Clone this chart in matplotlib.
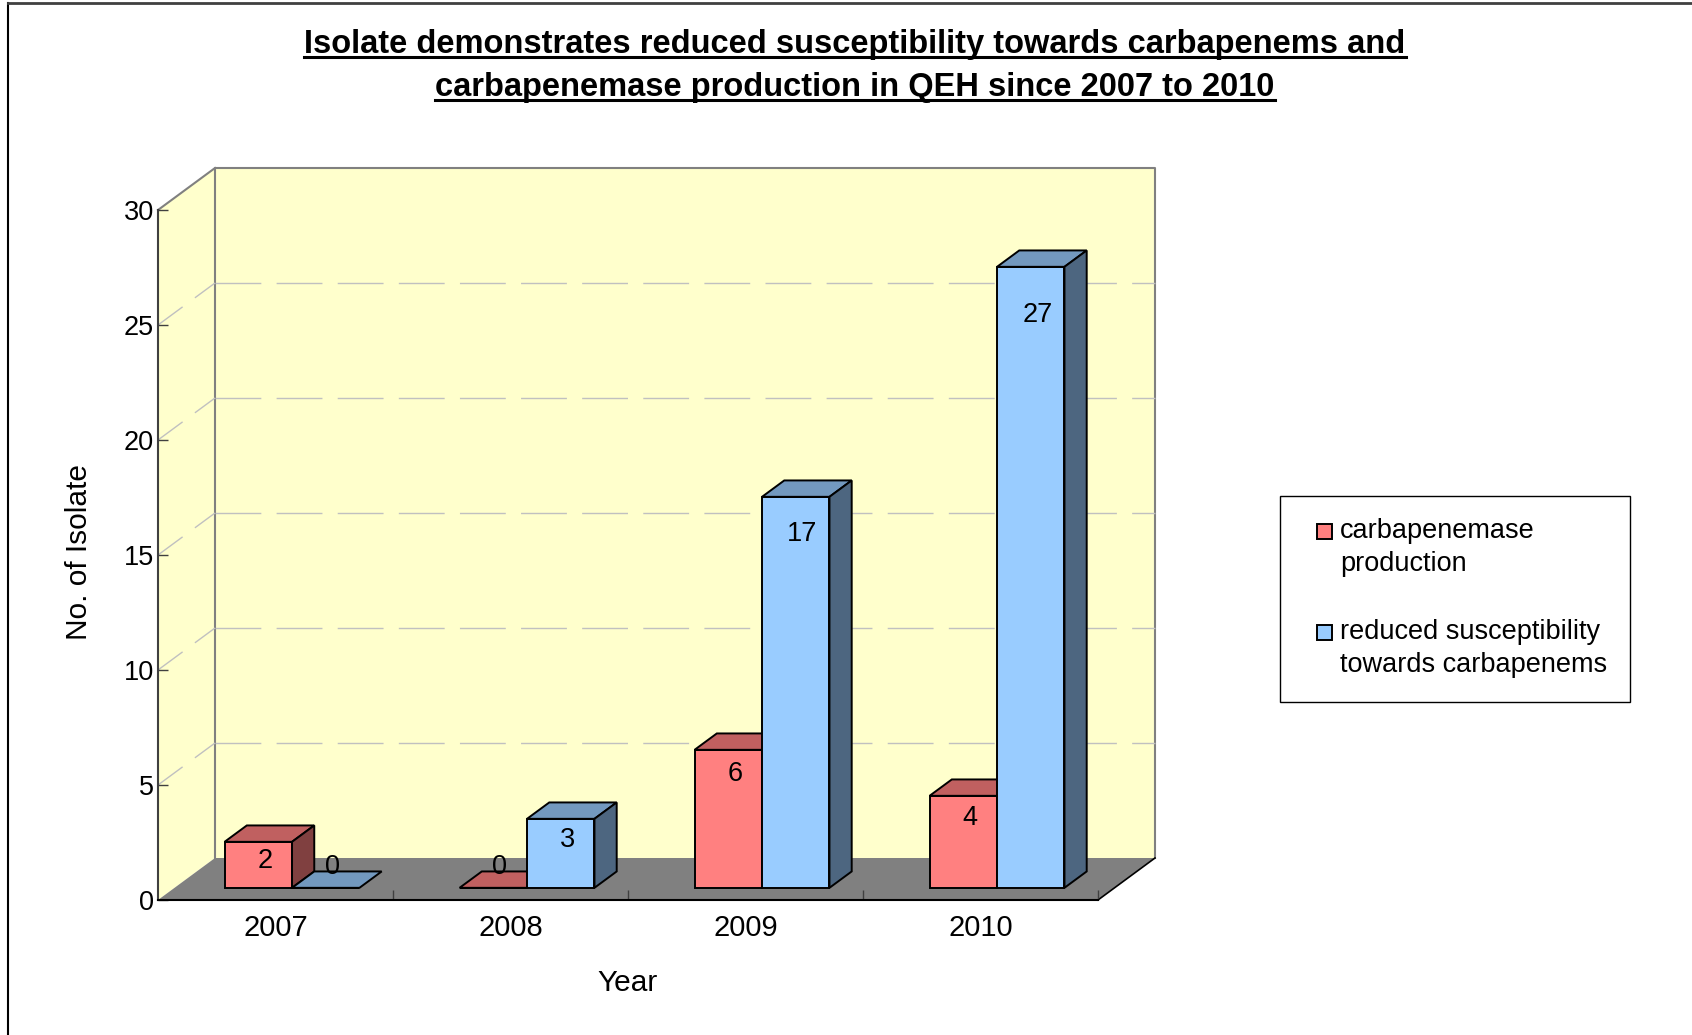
import matplotlib
matplotlib.use("Agg")
import matplotlib.pyplot as plt
from matplotlib.patches import Polygon, Rectangle
from matplotlib.lines import Line2D

# ── data ────────────────────────────────────────────────────────────────
years = ['2007', '2008', '2009', '2010']
carbapenemase = [2, 0, 6, 4]
reduced_susc = [0, 3, 17, 27]
series_names = ['carbapenemase\nproduction',
                'reduced susceptibility\ntowards carbapenems']
y_ticks = [0, 5, 10, 15, 20, 25, 30]
title_lines = ['Isolate demonstrates reduced susceptibility towards carbapenems and',
               'carbapenemase production in QEH since 2007 to 2010']

plt.rcParams['font.family'] = ['Liberation Sans', 'DejaVu Sans']

W, H = 1692, 1035
fig = plt.figure(figsize=(W / 100, H / 100), dpi=100)
ax = fig.add_axes([158 / W, 135 / H, 940 / W, 690 / H])
ax.set_xlim(-0.5, 3.5)
ax.set_ylim(0, 30)
ax.patch.set_visible(False)

# oblique depth of the 3D box (data units) and bar placement in depth
DX, DY = 57 / 235, 42 / 23
FRONT, BACK = 0.29, 0.68
BW = 0.287
x0, x1, ytop = -0.5, 3.5, 30

# walls and floor
ax.add_patch(Polygon([(x0 + DX, DY), (x1 + DX, DY), (x1 + DX, ytop + DY), (x0 + DX, ytop + DY)],
                     closed=True, fc='#FFFFCC', ec='none', zorder=0, clip_on=False))
ax.add_patch(Polygon([(x0, 0), (x0 + DX, DY), (x0 + DX, ytop + DY), (x0, ytop)],
                     closed=True, fc='#FFFFCC', ec='none', zorder=0, clip_on=False))
ax.plot([x0 + DX, x0 + DX, x1 + DX, x1 + DX], [DY, ytop + DY, ytop + DY, DY],
        color='#808080', lw=1.5, zorder=0.5, clip_on=False)
ax.plot([x0, x0 + DX], [ytop, ytop + DY], color='#808080', lw=1.5, zorder=0.5, clip_on=False)

# gridlines on back and side wall
for t in y_ticks[1:-1]:
    ax.plot([x0 + DX, x1 + DX], [t + DY, t + DY], color='#C0C0C0', lw=1,
            ls=(0, (33, 11)), zorder=0.6, clip_on=False)
    ax.plot([x0, x0 + DX], [t, t + DY], color='#C0C0C0', lw=1,
            ls=(0, (22, 11)), zorder=0.6, clip_on=False)

ax.add_patch(Polygon([(x0, 0), (x1, 0), (x1 + DX, DY), (x0 + DX, DY)],
                     closed=True, fc='#808080', ec='none', zorder=1, clip_on=False))
ax.plot([x1, x1 + DX], [0, DY], color='black', lw=1.2, zorder=1.1, clip_on=False)

# 3D bars: front face with ax.bar, top and side faces as polygons
faces = [('#FF8080', '#C06060', '#804040'), ('#99CCFF', '#7399BF', '#4D6680')]
base = FRONT * DY
ddx, ddy = (BACK - FRONT) * DX, (BACK - FRONT) * DY
for j, vals in enumerate([carbapenemase, reduced_susc]):
    front, top, side = faces[j]
    z = 3 + j
    lefts = [i + FRONT * DX - BW + j * BW for i in range(len(years))]
    ax.bar(lefts, vals, width=BW, bottom=base, align='edge', color=front,
           edgecolor='black', linewidth=1.4, zorder=z, clip_on=False)
    for xl, v in zip(lefts, vals):
        yt = base + v
        ax.add_patch(Polygon([(xl, yt), (xl + BW, yt), (xl + BW + ddx, yt + ddy), (xl + ddx, yt + ddy)],
                             closed=True, fc=top, ec='black', lw=1.4, zorder=z, clip_on=False))
        if v > 0:
            ax.add_patch(Polygon([(xl + BW, base), (xl + BW + ddx, base + ddy),
                                  (xl + BW + ddx, yt + ddy), (xl + BW, yt)],
                                 closed=True, fc=side, ec='black', lw=1.4, zorder=z, clip_on=False))
        ax.text(xl + BW / 2 + 0.3 * ddx, base + max(v * 0.95 - 0.75, 0.9), str(v),
                ha='center', va='center', fontsize=19.5, zorder=10)

# axes
for s in ['top', 'right']:
    ax.spines[s].set_visible(False)
ax.spines['left'].set_color('#404040')
ax.spines['left'].set_linewidth(1.5)
ax.spines['bottom'].set_color('black')
ax.spines['bottom'].set_linewidth(1.5)
ax.spines['left'].set_zorder(2)
ax.spines['bottom'].set_zorder(2)

ax.set_yticks(y_ticks)
ax.tick_params(axis='y', direction='in', length=7, width=1, pad=3,
               labelsize=19.5, color='#404040')
ax.set_xticks(range(len(years)))
ax.set_xticklabels(years, fontsize=21)
ax.set_xticks([0.5, 1.5, 2.5, 3.5], minor=True)
ax.tick_params(axis='x', which='major', length=0, pad=10)
ax.tick_params(axis='x', which='minor', direction='in', length=7, width=1, color='#404040')

fig.text(79 / W, 1 - 552 / H, 'No. of Isolate', rotation=90, ha='center', va='center', fontsize=21.5)
fig.text(628 / W, 1 - 983 / H, 'Year', ha='center', va='center', fontsize=21.5)

# title with underline
baselines = [53, 96]
title_texts = []
for line, yb in zip(title_lines, baselines):
    title_texts.append(fig.text(855 / W, 1 - yb / H, line, ha='center', va='baseline',
                                fontsize=23.5, fontweight='bold'))
fig.canvas.draw()
r = fig.canvas.get_renderer()
for t, yb in zip(title_texts, baselines):
    bb = t.get_window_extent(r)
    yu = 1 - (yb + 4) / H
    fig.add_artist(Line2D([bb.x0 / W, bb.x1 / W], [yu, yu], color='black', lw=2.2))

# legend (drawn by hand so the swatch sits on the first text line)
fig.add_artist(Rectangle((1280 / W, 1 - 702 / H), 350 / W, 206 / H, transform=fig.transFigure,
                         fc='white', ec='black', lw=1))
entry_y = [531, 632]
for name, (front, _, _), yl in zip(series_names, faces, entry_y):
    fig.add_artist(Rectangle((1317 / W, 1 - (yl + 8) / H), 15 / W, 15 / H, transform=fig.transFigure,
                             fc=front, ec='black', lw=1.4))
    for k, part in enumerate(name.split('\n')):
        fig.text(1340 / W, 1 - (yl + 33 * k) / H, part, ha='left', va='center', fontsize=19.5)

# outer chart border
fig.add_artist(Line2D([7.5 / W, 7.5 / W], [0, 1 - 3 / H], color='black', lw=1.5))
fig.add_artist(Line2D([7.5 / W, 1], [1 - 3 / H, 1 - 3 / H], color='#404040', lw=2))

fig.savefig('out.png', dpi=100)
